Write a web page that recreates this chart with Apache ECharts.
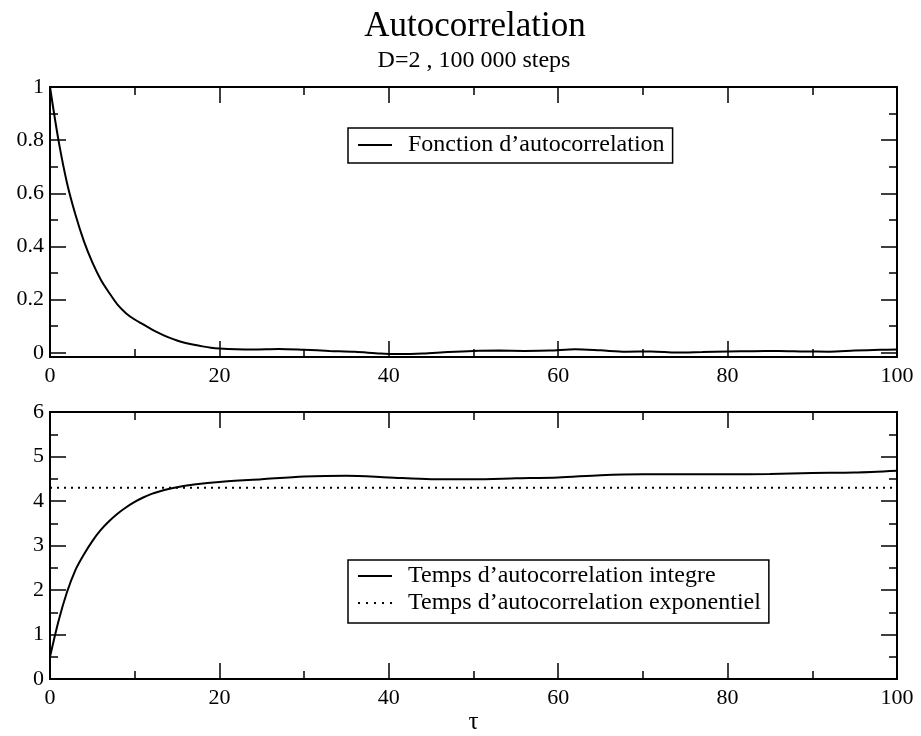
<!DOCTYPE html>
<html>
<head>
<meta charset="utf-8">
<script src="https://cdn.jsdelivr.net/npm/echarts@6/dist/echarts.min.js"></script>
<style>
  html, body { margin: 0; padding: 0; background: #fff; }
  #chart { width: 921px; height: 736px; }
</style>
</head>
<body>
<div id="chart"></div>
<script>
// haut : fonction d'autocorrelation
var tauA = [0, 1, 2, 3, 4, 5, 6, 7, 8, 9, 10, 11, 12, 13, 14, 15, 16, 17, 18, 19, 20,
  22, 24, 27, 30, 33, 36, 39, 41, 44, 47, 50, 53, 56, 59, 62, 65, 68, 71, 74, 77,
  80, 83, 86, 89, 92, 95, 98, 100];
var acf = [1.00, 0.80, 0.64, 0.52, 0.42, 0.34, 0.275, 0.225, 0.18, 0.148, 0.125, 0.107, 0.088,
  0.072, 0.058, 0.046, 0.037, 0.03, 0.024, 0.019, 0.016,
  0.013, 0.012, 0.014, 0.011, 0.007, 0.004, -0.003, -0.005, -0.003, 0.003, 0.007, 0.008,
  0.007, 0.008, 0.013, 0.009, 0.004, 0.005, 0.001, 0.003,
  0.005, 0.006, 0.007, 0.005, 0.004, 0.008, 0.011, 0.012];

// bas : temps d'autocorrelation integre + exponentiel
var tauB = [0, 1, 2, 3, 4, 5, 6, 7, 8, 9, 10, 11, 12, 13, 14, 15, 17, 20, 25, 30, 35,
  40, 45, 50, 55, 60, 65, 70, 75, 80, 85, 90, 95, 100];
var tint = [0.5, 1.3, 1.95, 2.45, 2.8, 3.1, 3.35, 3.55, 3.72, 3.86, 3.98, 4.08, 4.16, 4.22,
  4.27, 4.31, 4.37, 4.43, 4.49, 4.55, 4.57, 4.53, 4.49, 4.49, 4.51, 4.53, 4.58, 4.6,
  4.6, 4.6, 4.61, 4.63, 4.64, 4.68];
var tauExp = 4.3;

var xTicks = [0, 20, 40, 60, 80, 100];

var names = ['Fonction d\u2019autocorrelation',
  'Temps d\u2019autocorrelation integre',
  'Temps d\u2019autocorrelation exponentiel'];

var FONT = "'Liberation Serif', 'DejaVu Serif', serif";

function pairs(xs, ys) {
  return xs.map(function (x, i) { return [x, ys[i]]; });
}

var tickStyle = { color: '#000', width: 1.5 };

// axe x (en bas avec labels, en haut sans)
function xAxisFor(grid, pos, withLabels) {
  return {
    gridIndex: grid,
    type: 'value',
    position: pos,
    min: xTicks[0],
    max: xTicks[xTicks.length - 1],
    interval: 20,
    axisLine: { show: false, onZero: false },
    axisTick: { show: true, inside: true, length: 16, lineStyle: tickStyle },
    minorTick: { show: true, splitNumber: 2, length: 8, lineStyle: tickStyle },
    splitLine: { show: false },
    axisLabel: {
      show: withLabels, margin: 8, color: '#000', fontFamily: FONT, fontSize: 22
    }
  };
}

function yAxisFor(grid, pos, withLabels, extra) {
  var ax = {
    gridIndex: grid,
    type: 'value',
    position: pos,
    axisLine: { show: false, onZero: false },
    axisTick: { show: true, inside: true, length: 16, lineStyle: tickStyle },
    minorTick: { show: true, splitNumber: 2, length: 8, lineStyle: tickStyle },
    splitLine: { show: false },
    axisLabel: {
      show: withLabels, margin: 6, color: '#000', fontFamily: FONT, fontSize: 22,
      showMinLabel: extra.showMin
    }
  };
  for (var k in extra) if (k !== 'showMin') ax[k] = extra[k];
  return ax;
}

var topY = { min: -0.016, max: 1, splitNumber: 5, showMin: false };
var botY = { min: 0, max: 6, interval: 1, showMin: true };

var chart = echarts.init(document.getElementById('chart'));

var botX = xAxisFor(1, 'bottom', true);
botX.name = '\u03c4';
botX.nameLocation = 'middle';
botX.nameGap = 30;
botX.nameTextStyle = { color: '#000', fontFamily: FONT, fontSize: 25 };

var legendText = { color: '#000', fontFamily: FONT, fontSize: 24, lineHeight: 24, padding: [0, 0, 0, 11] };
var solidIcon = 'rect';
var dotIcon = 'path://M0,0h2v2h-2zM8,0h2v2h-2zM16,0h2v2h-2zM24,0h2v2h-2zM32,0h2v2h-2z';

var option = {
  animation: false,
  backgroundColor: '#fff',
  title: [
    {
      text: 'Autocorrelation', left: 470, top: 4, textAlign: 'center',
      textStyle: { color: '#000', fontFamily: FONT, fontSize: 35, fontWeight: 'normal' }
    },
    {
      text: 'D=2 , 100 000 steps', left: 469, top: 44, textAlign: 'center',
      textStyle: { color: '#000', fontFamily: FONT, fontSize: 24, fontWeight: 'normal' }
    }
  ],
  grid: [
    { left: 50, right: 24, top: 87, height: 270, show: true, borderColor: '#000', borderWidth: 2 },
    { left: 50, right: 24, top: 412, height: 271, show: true, borderColor: '#000', borderWidth: 2 }
  ],
  legend: [
    {
      data: [{ name: names[0], icon: solidIcon, itemStyle: { color: '#000' } }],
      left: 348, top: 128, orient: 'vertical', selectedMode: false,
      itemWidth: 34, itemHeight: 2, borderColor: '#000', borderWidth: 1.5, borderRadius: 0,
      padding: [5, 8, 6, 10], textStyle: legendText
    },
    {
      data: [
        { name: names[1], icon: solidIcon, itemStyle: { color: '#000' } },
        { name: names[2], icon: dotIcon, itemStyle: { color: '#000' } }
      ],
      left: 348, top: 560, orient: 'vertical', selectedMode: false,
      itemWidth: 34, itemHeight: 2, itemGap: 3, borderColor: '#000', borderWidth: 1.5, borderRadius: 0,
      padding: [4, 8, 8, 10], textStyle: legendText
    }
  ],
  xAxis: [
    xAxisFor(0, 'bottom', true),
    xAxisFor(0, 'top', false),
    botX,
    xAxisFor(1, 'top', false)
  ],
  yAxis: [
    yAxisFor(0, 'left', true, topY),
    yAxisFor(0, 'right', false, topY),
    yAxisFor(1, 'left', true, botY),
    yAxisFor(1, 'right', false, botY)
  ],
  series: [
    {
      name: names[0], type: 'line', xAxisIndex: 0, yAxisIndex: 0,
      data: pairs(tauA, acf), symbol: 'none', smooth: 0.3,
      lineStyle: { color: '#000', width: 2 }, itemStyle: { color: '#000' }
    },
    {
      name: names[1], type: 'line', xAxisIndex: 2, yAxisIndex: 2,
      data: pairs(tauB, tint), symbol: 'none', smooth: 0.3,
      lineStyle: { color: '#000', width: 2 }, itemStyle: { color: '#000' }
    },
    {
      name: names[2], type: 'line', xAxisIndex: 2, yAxisIndex: 2,
      data: [[xTicks[0], tauExp], [xTicks[xTicks.length - 1], tauExp]], symbol: 'none',
      lineStyle: { color: '#000', width: 2, type: [2, 5] }, itemStyle: { color: '#000' }
    }
  ]
};

chart.setOption(option);
</script>
</body>
</html>
